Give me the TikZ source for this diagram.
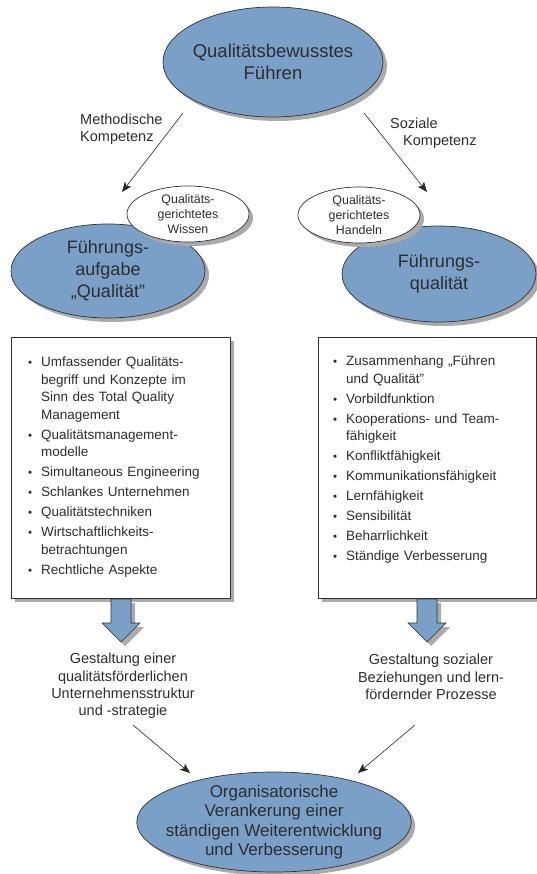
\documentclass[tikz,border=0pt]{standalone}
\usepackage{fontspec}
\setmainfont{Liberation Sans}
\usetikzlibrary{shapes.geometric,shadows,arrows.meta}
\definecolor{fillblue}{RGB}{122,160,200}
\definecolor{inktext}{RGB}{45,45,45}
\definecolor{shadowgray}{RGB}{170,170,170}
\definecolor{edgegray}{RGB}{50,50,50}
\newcommand{\bitem}[1]{\par\hangindent=13pt\hangafter=1\noindent\makebox[13pt][l]{\scalebox{0.85}{\textbullet}}#1\par}
\newcommand{\igap}{\vspace{2.5pt}}
\begin{document}
\begin{tikzpicture}[x=1pt,y=-1pt,
  every node/.style={text=inktext},
  shade4/.style={general shadow={fill=shadowgray, shadow xshift=4pt, shadow yshift=-4pt}},
  bigell/.style={ellipse, draw=edgegray, line width=0.7pt, fill=fillblue, inner sep=0pt, shade4, align=center, font=\fontsize{18}{22}\selectfont},
  smallell/.style={ellipse, draw=edgegray, line width=0.7pt, fill=white, inner xsep=0pt, inner ysep=-3pt, shade4, align=center, font=\fontsize{12.4}{15}\selectfont, minimum width=122pt, minimum height=56pt},
  listbox/.style={rectangle, draw=edgegray, line width=0.7pt, fill=white, shade4, inner sep=0pt, anchor=north west},
  listtext/.style={anchor=north west, text width=200pt, inner sep=0pt, align=left, font=\fontsize{13.5}{17.5}\selectfont},
  lbl/.style={align=center, font=\fontsize{14.5}{17.3}\selectfont, inner sep=0pt},
  arr/.style={draw=black!85, line width=0.6pt, -{Stealth[length=10pt,width=8pt,inset=2.5pt]}},
  blockarrow/.pic={\filldraw[fill=fillblue, draw=edgegray, line width=0.6pt, shade4] (-10,0) -- (10,0) -- (10,24) -- (19,24) -- (0,43) -- (-19,24) -- (-10,24) -- cycle;}
]
\useasboundingbox (0,0) rectangle (536,874);

% top
\node[bigell, minimum width=220pt, minimum height=110pt, inner sep=-3pt, font=\fontsize{18.5}{22}\selectfont] (top) at (273,62) {Qualitätsbewusstes\\Führen};

% labels of the upper arrows
\node[lbl, align=left, anchor=west] (lmeth) at (80,129) {Methodische\\Kompetenz};
\node[lbl, align=left, anchor=west] (lsoz) at (390,133) {Soziale\\\hspace*{13pt}Kompetenz};

\coordinate (m1) at (183,113);
\coordinate (m2) at (122,192);
\coordinate (s1) at (364,113);
\coordinate (s2) at (427,192);
\draw[arr] (m1) -- (m2);
\draw[arr] (s1) -- (s2);

% big ellipses
\node[bigell, minimum width=194pt, minimum height=94pt] (fa) at (108,271) {Führungs-\\aufgabe\\„Qualität”};
\node[bigell, minimum width=194pt, minimum height=96pt] (fq) at (439,274) {Führungs-\\qualität};

% small ellipses
\node[smallell] (wis) at (188,214) {Qualitäts-\\gerichtetes\\Wissen};
\node[smallell] (han) at (359,215) {Qualitäts-\\gerichtetes\\Handeln};

% boxes
\node[listbox, minimum width=219pt, minimum height=261pt] (lbox) at (11,337) {};
\node[listbox, minimum width=218pt, minimum height=261pt] (rbox) at (318,337) {};

\node[listtext] (ltext) at (28,349) {\bitem{Umfassender Qualitäts-\newline begriff und Konzepte im\newline Sinn des Total Quality\newline Management}\igap\bitem{Qualitätsmanagement-\newline modelle}\igap\bitem{Simultaneous Engineering}\igap\bitem{Schlankes Unternehmen}\igap\bitem{Qualitätstechniken}\igap\bitem{Wirtschaftlichkeits-\newline betrachtungen}\igap\bitem{Rechtliche Aspekte}};

\node[listtext] (rtext) at (333,348) {\bitem{Zusammenhang „Führen\newline und Qualität”}\igap\bitem{Vorbildfunktion}\igap\bitem{Kooperations- und Team-\newline fähigkeit}\igap\bitem{Konfliktfähigkeit}\igap\bitem{Kommunikationsfähigkeit}\igap\bitem{Lernfähigkeit}\igap\bitem{Sensibilität}\igap\bitem{Beharrlichkeit}\igap\bitem{Ständige Verbesserung}};

% block arrows
\pic (barL) at (121,599) {blockarrow};
\pic (barR) at (427,599) {blockarrow};

% lower labels
\node[lbl] (gl) at (123,686) {Gestaltung einer\\qualitätsförderlichen\\Unternehmensstruktur\\und -strategie};
\node[lbl] (gr) at (431,677) {Gestaltung sozialer\\Beziehungen und lern-\\fördernder Prozesse};

% bottom ellipse
\node[bigell, minimum width=274pt, minimum height=100pt, inner xsep=-11pt, inner ysep=-3pt, font=\fontsize{17}{19.5}\selectfont] (org) at (274,822) {Organisatorische\\Verankerung einer\\ständigen Weiterentwicklung\\und Verbesserung};

\coordinate (b1) at (133,725);
\coordinate (b2) at (190,773);
\coordinate (c1) at (415,725);
\coordinate (c2) at (358,773);
\draw[arr] (b1) -- (b2);
\draw[arr] (c1) -- (c2);
\end{tikzpicture}
\end{document}
